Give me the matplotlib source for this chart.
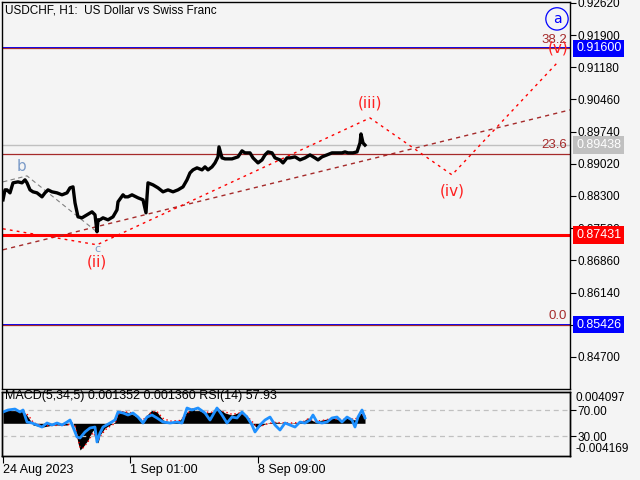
import numpy as np
import matplotlib.pyplot as plt
import matplotlib.transforms as mtrans

plt.rcParams['font.family'] = ['Liberation Sans', 'DejaVu Sans']

# --- datos de precio (barra H1, cierre aproximado) ---
bar = [3, 5, 7, 10, 13, 18, 22, 25, 27, 30, 33, 37, 42, 45, 48, 52, 57, 62, 67, 70,
       73, 75, 78, 82, 87, 92, 95, 97, 98, 100, 103, 108, 113, 117, 118, 123, 125, 128,
       132, 138, 143, 146, 147, 148, 153, 158, 163, 168, 173, 178, 183, 187, 190, 193,
       197, 202, 205, 208, 212, 215, 218, 219, 222, 225, 232, 238, 242, 245, 250, 253,
       257, 258, 262, 265, 268, 272, 275, 280, 283, 287, 290, 295, 300, 305, 310, 315,
       318, 322, 327, 332, 337, 342, 345, 348, 353, 357, 360, 361, 363, 365]
close = [0.88214, 0.88437, 0.88437, 0.88370, 0.88594, 0.88616, 0.88594, 0.88661, 0.88594,
         0.88437, 0.88393, 0.88370, 0.88281, 0.88370, 0.88437, 0.88393, 0.88370, 0.88326,
         0.88370, 0.88482, 0.88504, 0.88147, 0.87834, 0.87812, 0.87879, 0.87946, 0.87879,
         0.87500, 0.87767, 0.87767, 0.87812, 0.87767, 0.87834, 0.87990, 0.88169, 0.88326,
         0.88281, 0.88281, 0.88326, 0.88259, 0.88214, 0.87924, 0.88281, 0.88594, 0.88549,
         0.88482, 0.88393, 0.88437, 0.88393, 0.88437, 0.88504, 0.88661, 0.88817, 0.88884,
         0.88929, 0.88884, 0.88951, 0.88884, 0.88951, 0.89040, 0.89175, 0.89398, 0.89152,
         0.89130, 0.89130, 0.89175, 0.89309, 0.89264, 0.89264, 0.89152, 0.89063, 0.89040,
         0.89107, 0.89219, 0.89286, 0.89264, 0.89152, 0.89107, 0.89040, 0.89152, 0.89152,
         0.89175, 0.89107, 0.89152, 0.89219, 0.89152, 0.89107, 0.89175, 0.89219, 0.89264,
         0.89264, 0.89264, 0.89286, 0.89264, 0.89264, 0.89286, 0.89487, 0.89688, 0.89487,
         0.89438]

# --- ondas de Elliott ---
wave_bar = [3, 97, 370, 452, 558]
wave_price = [0.87566, 0.87209, 0.90046, 0.88772, 0.91297]
wave_labels = ["(ii)", "(iii)", "(iv)", "(v)"]
wave_label_bar = [97, 370, 452, 558]
wave_label_price = [0.86829, 0.90381, 0.88415, 0.91610]

bc_bar = [3, 27, 98]
bc_price = [0.88616, 0.88750, 0.87477]

canal_bar = [3, 570]
canal_price = [0.87097, 0.90225]

# --- niveles ---
fib_names = ["0.0", "23.6", "38.2"]
fib_prices = [0.85426, 0.89250, 0.91600]
bid = 0.89438
soporte = 0.87431
azules = [0.91600, 0.85426]

yticks = [0.92620, 0.91900, 0.91180, 0.90460, 0.89740, 0.89020, 0.88300,
          0.87580, 0.86860, 0.86140, 0.85420, 0.84700]

# --- indicadores ---
rsi_bar = [3, 8, 15, 20, 23, 27, 32, 37, 42, 47, 52, 57, 62, 67, 70, 73, 77, 80, 85, 90,
           95, 97, 100, 103, 110, 115, 118, 123, 128, 133, 138, 143, 147, 152, 157, 163,
           170, 177, 182, 187, 192, 198, 205, 210, 217, 222, 227, 232, 237, 242, 247, 252,
           255, 260, 265, 270, 275, 280, 285, 290, 295, 300, 305, 310, 313, 317, 322, 327,
           332, 337, 342, 347, 352, 355, 358, 362, 365]
rsi = [66.9, 70.0, 71.5, 66.9, 70.0, 51.5, 50.0, 46.9, 43.8, 50.0, 46.9, 50.0, 46.9, 51.5,
       54.6, 43.8, 28.5, 26.9, 36.2, 42.3, 43.8, 20.8, 34.6, 43.8, 50.0, 54.6, 66.9, 65.4,
       62.3, 65.4, 59.2, 50.0, 59.2, 62.3, 57.7, 51.5, 50.0, 51.5, 50.0, 73.1, 70.0, 73.1,
       65.4, 54.6, 73.1, 62.3, 50.0, 59.2, 57.7, 66.9, 59.2, 46.9, 36.2, 46.9, 54.6, 59.2,
       46.9, 39.2, 50.0, 46.9, 43.8, 51.5, 50.0, 54.6, 62.3, 51.5, 50.0, 51.5, 57.7, 59.2,
       51.5, 59.2, 54.6, 43.8, 59.2, 70.0, 57.93]

macd_bar = [3, 10, 20, 25, 28, 32, 33, 43, 53, 67, 72, 75, 78, 80, 83, 88, 93, 98, 100,
            105, 110, 115, 118, 123, 130, 137, 142, 147, 152, 157, 163, 170, 180, 187, 192,
            198, 205, 212, 218, 225, 232, 240, 247, 252, 257, 262, 268, 275, 282, 292, 302,
            308, 315, 322, 332, 342, 348, 355, 360, 365]
macd = [0.00215, 0.00215, 0.00199, 0.00167, 0.00102, 0.00005, -0.00028, -0.00060,
        -0.00028, -0.00028, 0.00021, -0.00060, -0.00319, -0.00432, -0.00384, -0.00271,
        -0.00109, -0.00319, -0.00190, -0.00076, -0.00028, 0.00021, 0.00183, 0.00199,
        0.00167, 0.00102, 0.00021, 0.00134, 0.00215, 0.00183, 0.00053, 0.00021, 0.00053,
        0.00183, 0.00248, 0.00215, 0.00167, 0.00183, 0.00248, 0.00167, 0.00134, 0.00183,
        0.00102, 0.00005, -0.00076, -0.00028, 0.00005, 0.00021, 0.00005, 0.00005, 0.00021,
        0.00086, 0.00021, 0.00053, 0.00086, 0.00053, 0.00086, 0.00053, 0.00167, 0.00135]
signal = [0.00200, 0.00210, 0.00205, 0.00180, 0.00130, 0.00050, 0.00010, -0.00040,
          -0.00035, -0.00030, 0.00000, -0.00040, -0.00250, -0.00390, -0.00400, -0.00300,
          -0.00150, -0.00280, -0.00220, -0.00110, -0.00050, 0.00000, 0.00140, 0.00190,
          0.00175, 0.00120, 0.00045, 0.00110, 0.00190, 0.00190, 0.00080, 0.00035, 0.00045,
          0.00150, 0.00230, 0.00220, 0.00180, 0.00180, 0.00230, 0.00185, 0.00145, 0.00170,
          0.00115, 0.00030, -0.00055, -0.00040, -0.00005, 0.00015, 0.00008, 0.00005, 0.00015,
          0.00070, 0.00035, 0.00045, 0.00075, 0.00060, 0.00080, 0.00060, 0.00140, 0.00136]

x_ticks = [3, 130, 258]
x_labels = ["24 Aug 2023", "1 Sep 01:00", "8 Sep 09:00"]

# --- figura ---
bg = "#f4f4f4"
W, H = 640, 480
def rect(l, t, r, b):
    return [l / W, 1 - b / H, (r - l) / W, (b - t) / H]

fig = plt.figure(figsize=(6.4, 4.8), dpi=100, facecolor=bg)
ax = fig.add_axes(rect(2, 2, 570, 389), facecolor=bg)
axi = fig.add_axes(rect(2, 392, 570, 456), facecolor=bg)

ax.set_xlim(2, 570)
ax.set_ylim(0.83984, 0.92638)

# horizontales
for p in azules:
    ax.axhline(p, color="#0000ff", lw=1.4, zorder=1)
for p in fib_prices:
    ax.axhline(p, color="#a52a2a", lw=0.9, zorder=1.1)
ax.axhline(bid, color="#c0c0c0", lw=1, zorder=1)
ax.axhline(soporte, color="#ff0000", lw=2.2, zorder=1)

tr = mtrans.blended_transform_factory(ax.transAxes, ax.transData)
for name, p in zip(fib_names, fib_prices):
    ax.text(0.995, p + 0.0005, name, transform=tr, ha="right", va="bottom",
            color="#a52a2a", fontsize=9.5)

# ondas y canales
ax.plot(canal_bar, canal_price, color="#a52a2a", lw=1, ls=(0, (3, 3)), zorder=2)
ax.plot(bc_bar, bc_price, color="#808080", lw=0.8, ls=(0, (4, 3)), zorder=2)
ax.plot(wave_bar, wave_price, color="#ff0000", lw=1, ls=(0, (2, 3)), zorder=2)

# precio
ax.plot(bar, close, color="black", lw=2.4, zorder=3)

for lab, b, p in zip(wave_labels, wave_label_bar, wave_label_price):
    ax.text(b, p, lab, color="#ff2020", fontsize=11, ha="center", va="center",
            family="DejaVu Sans", zorder=4)
ax.text(22, 0.88952, "b", color="#7b9bc8", fontsize=11, ha="center", va="center",
        family="DejaVu Sans")
ax.text(97, 0.87120, "c", color="#7b9bc8", fontsize=8, ha="center", va="center",
        family="DejaVu Sans")
ax.text(557, 0.92260, "a", color="#0000ff", fontsize=10, ha="center", va="center",
        family="DejaVu Sans",
        bbox=dict(boxstyle="circle,pad=0.3", facecolor="none", edgecolor="#0000ff", lw=0.9))

ax.text(5, 0.9245, "USDCHF, H1:  US Dollar vs Swiss Franc", fontsize=8.5,
        ha="left", va="center", color="black")

# eje derecho
ax.yaxis.tick_right()
ax.set_yticks(yticks)
ax.set_yticklabels([f"{t:.5f}" for t in yticks])
ax.tick_params(axis="y", direction="out", length=4, width=0.8, pad=1.5, labelsize=8.5)
ax.set_xticks([])

boxes = [(fib_prices[2], "#0000ff", "white"), (bid, "#c0c0c0", "white"),
         (soporte, "#ff0000", "white"), (azules[1], "#0000ff", "white")]
for p, fc, tc in boxes:
    ax.text(1.011, p, f"{p:.5f}", transform=tr, ha="left", va="center", fontsize=9,
            color=tc, clip_on=False, zorder=5,
            bbox=dict(boxstyle="square,pad=0.22", facecolor=fc, edgecolor="none"))

for s in ax.spines.values():
    s.set_color("black")
    s.set_linewidth(1)

# panel de indicadores
axi.set_xlim(2, 570)
axi.set_ylim(-0.77, 97.7)
axm = axi.twinx()
axm.set_ylim(-0.0053, 0.00507)
axm.fill_between(macd_bar, 0, macd, color="black", lw=0)
axm.plot(macd_bar, signal, color="#ff0000", lw=1, ls=(0, (1, 2)))
axi.set_zorder(axm.get_zorder() + 1)
axi.patch.set_visible(False)
axm.set_facecolor(bg)
axi.axhline(70, color="#c0c0c0", lw=0.9, ls=(0, (4, 3)))
axi.axhline(30, color="#c0c0c0", lw=0.9, ls=(0, (4, 3)))
axi.plot(rsi_bar, rsi, color="#1e90ff", lw=2)

axi.text(5, 91, "MACD(5,34,5) 0.001352 0.001360 RSI(14) 57.93", fontsize=9,
         ha="left", va="center", color="black")

axm.set_yticks([])
axi.yaxis.tick_right()
axi.set_yticks([70, 30])
axi.set_yticklabels(["70.00", "30.00"])
axi.tick_params(axis="y", direction="out", length=4, width=0.8, pad=1.5, labelsize=8.5)
trm = mtrans.blended_transform_factory(axm.transAxes, axm.transData)
axm.text(1.01, 0.004097, "0.004097", transform=trm, ha="left", va="center",
         fontsize=8.5, clip_on=False)
axm.text(1.01, -0.004169, "-0.004169", transform=trm, ha="left", va="center",
         fontsize=8.5, clip_on=False)

axi.set_xticks(x_ticks)
axi.set_xticklabels(x_labels, ha="left")
axi.tick_params(axis="x", direction="out", length=5, width=0.8, pad=1, labelsize=9)
for a in (axi, axm):
    for s in a.spines.values():
        s.set_color("black")
        s.set_linewidth(1)

fig.savefig("out.png", dpi=100, facecolor=bg)
